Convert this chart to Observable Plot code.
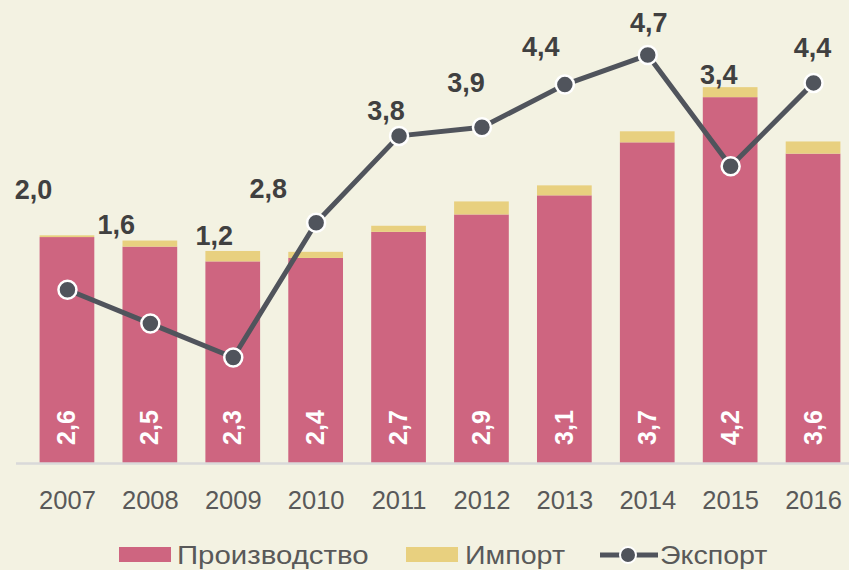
<!DOCTYPE html>
<html>
<head>
<meta charset="utf-8">
<script src="https://cdn.jsdelivr.net/npm/d3@7"></script>
<script src="https://cdn.jsdelivr.net/npm/@observablehq/plot@0.6"></script>
<style>
  html, body { margin: 0; padding: 0; background: #F3F2E2; }
  body { width: 849px; height: 570px; overflow: hidden; position: relative; font-family: "Liberation Sans", Arial, sans-serif; }
  #chart { position: absolute; left: 0; top: 0; }
  .lg { position: absolute; top: 540px; height: 30px; display: flex; align-items: center; font-size: 26px; color: #595959; white-space: nowrap; transform-origin: left center; }
  .sw { position: absolute; top: 547px; width: 52px; height: 15px; }
</style>
</head>
<body>
<div id="chart"></div>
<div id="legend"></div>
<script>
// ---- data ----
const years = ["2007","2008","2009","2010","2011","2012","2013","2014","2015","2016"];
const production = [2.60, 2.49, 2.32, 2.36, 2.66, 2.86, 3.08, 3.69, 4.21, 3.56];
const imports    = [0.02, 0.07, 0.12, 0.07, 0.07, 0.15, 0.115, 0.127, 0.115, 0.14];
const exports    = [2.00, 1.61, 1.22, 2.77, 3.77, 3.87, 4.36, 4.70, 3.42, 4.38];
const seriesNames = ["Производство", "Импорт", "Экспорт"];

// ---- layout (manual label placement, like the original) ----
const labelOffsets = [[-34,-99],[-34,-98],[-19,-121],[-48,-33],[-13,-25],[-16,-44],[-24,-37],[1,-32],[-12,-91],[-1,-35]];

const colors = {prod: "#CE6580", imp: "#E8D07F", exp: "#50545C"};
const fmt = v => d3.format(".1f")(v).replace(".", ",");

const stacked = [];
years.forEach((y, i) => {
  stacked.push({year: y, series: seriesNames[0], value: production[i]});
  stacked.push({year: y, series: seriesNames[1], value: imports[i]});
});
const exp = years.map((y, i) => ({year: y, value: exports[i], i}));
const prod = years.map((y, i) => ({year: y, value: production[i]}));

const exportLabels = exp.map(d => Plot.text([d], {
  x: "year", y: "value", text: d => fmt(d.value),
  dx: labelOffsets[d.i][0], dy: labelOffsets[d.i][1],
  fill: "#404040", fontSize: 27, fontWeight: "bold"
}));

const plot = Plot.plot({
  width: 849,
  height: 520,
  marginLeft: 16,
  marginRight: 0,
  marginTop: 0,
  marginBottom: 57,
  style: {background: "transparent", fontFamily: "'Liberation Sans', Arial, sans-serif"},
  x: {domain: years, range: [25.5, 854.5], paddingInner: 0.34, paddingOuter: 0.17, round: false, label: null},
  y: {domain: [0, 463 / 86.9], axis: null},
  color: {domain: seriesNames.slice(0, 2), range: [colors.prod, colors.imp]},
  marks: [
    Plot.barY(stacked, {x: "year", y: "value", fill: "series"}),
    Plot.ruleY([0], {stroke: "#D9D9D9", strokeWidth: 2.5}),
    Plot.axisX({tickSize: 0, tickPadding: 27, fontSize: 25.5, fill: "#595959", label: null}),
    Plot.text(prod, {x: "year", y: 0, text: d => fmt(d.value), dy: -36, rotate: -90,
      fill: "white", fontSize: 25, fontWeight: "bold"}),
    Plot.line(exp, {x: "year", y: "value", stroke: colors.exp, strokeWidth: 5}),
    Plot.dot(exp, {x: "year", y: "value", r: 9, fill: colors.exp, stroke: "white", strokeWidth: 2.5}),
    ...exportLabels
  ]
});
document.getElementById("chart").appendChild(plot);

// ---- legend ----
const legend = document.getElementById("legend");
legend.innerHTML =
  `<span class="sw" style="left:119px;background:${colors.prod}"></span>` +
  `<div class="lg" style="left:177px;transform:scaleX(1.13)">${seriesNames[0]}</div>` +
  `<span class="sw" style="left:406px;background:${colors.imp}"></span>` +
  `<div class="lg" style="left:465px;transform:scaleX(1.1)">${seriesNames[1]}</div>` +
  `<svg style="position:absolute;left:599px;top:543px" width="60" height="24"><line x1="1" y1="12" x2="59" y2="12" stroke="${colors.exp}" stroke-width="5"/><circle cx="29" cy="12" r="8" fill="${colors.exp}" stroke="white" stroke-width="2"/></svg>` +
  `<div class="lg" style="left:660px;transform:scaleX(1.1)">${seriesNames[2]}</div>`;
</script>
</body>
</html>
